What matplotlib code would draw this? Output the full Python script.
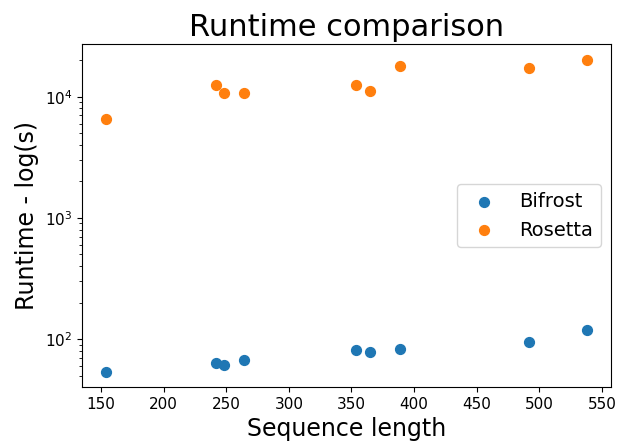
import matplotlib
matplotlib.use("Agg")
import matplotlib.pyplot as plt

# sequence lengths and runtimes (seconds)
seq_len = [154, 242, 248, 264, 354, 365, 389, 492, 538]
bifrost = [54, 64, 61, 67, 81, 78, 83, 94, 119]
rosetta = [6600, 12600, 10800, 10800, 12600, 11200, 18000, 17100, 20200]

fig, ax = plt.subplots(figsize=(6.17, 4.41), dpi=100)
ax.scatter(seq_len, bifrost, s=50, label='Bifrost')
ax.scatter(seq_len, rosetta, s=50, label='Rosetta')
ax.set_yscale('log')

ax.set_title('Runtime comparison', fontsize=22)
ax.set_xlabel('Sequence length', fontsize=17)
ax.set_ylabel('Runtime - log(s)', fontsize=17)
ax.tick_params(labelsize=11)
ax.legend(loc='center right', fontsize=14)

plt.subplots_adjust(left=0.133, right=0.99, top=0.9, bottom=0.122)
plt.savefig('out.png', dpi=100)
